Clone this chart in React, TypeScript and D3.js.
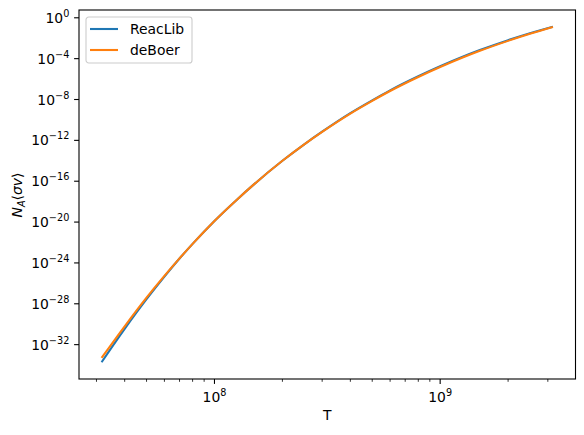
import React from 'react';
import * as d3 from 'd3';

// temperatures (K) and rates
const temps = [3.16e7, 4e7, 5e7, 6e7, 7e7, 8e7, 1e8, 1.25e8, 1.5e8, 2e8, 2.5e8, 3e8, 4e8, 5e8, 6e8, 8e8, 1e9, 1.25e9, 1.5e9, 2e9, 2.5e9, 3.16e9];
const reaclib = [1.9e-34, 3.5e-31, 2.8e-28, 4.6e-26, 2.7e-24, 7.4e-23, 1.3e-20, 1.4e-18, 5.2e-17, 1.0e-14, 4.1e-13, 7.0e-12, 4.6e-10, 8.3e-9, 7.9e-8, 1.9e-6, 1.8e-5, 1.45e-4, 6.9e-4, 6.5e-3, 3.1e-2, 1.32e-1];
const deboer = [5.0e-34, 6.3e-31, 4.0e-28, 5.4e-26, 2.8e-24, 7.4e-23, 1.3e-20, 1.4e-18, 5.2e-17, 1.0e-14, 4.1e-13, 6.8e-12, 4.2e-10, 7.4e-9, 6.8e-8, 1.6e-6, 1.5e-5, 1.2e-4, 5.8e-4, 5.5e-3, 2.7e-2, 1.26e-1];
const seriesNames = ['ReacLib', 'deBoer'];
const colors = ['#1f77b4', '#ff7f0e'];
const yTickExps = [0, -4, -8, -12, -16, -20, -24, -28, -32];
const xTickExps = [8, 9];

const W = 584;
const H = 435;
const margin = { left: 79, top: 10, right: 8.5, bottom: 56 };
const font = 'DejaVu Sans';
const fs = 13.9;

// matplotlib-style 5% padding in log space
function logPad(lo: number, hi: number): [number, number] {
  const a = Math.log10(lo);
  const b = Math.log10(hi);
  const p = (b - a) * 0.05;
  return [Math.pow(10, a - p), Math.pow(10, b + p)];
}

const App: React.FC = () => {
  const iw = W - margin.left - margin.right;
  const ih = H - margin.top - margin.bottom;
  const allY = reaclib.concat(deboer);

  const x = d3.scaleLog().domain(logPad(d3.min(temps)!, d3.max(temps)!)).range([0, iw]);
  const y = d3.scaleLog().domain(logPad(d3.min(allY)!, d3.max(allY)!)).range([ih, 0]);

  const line = d3.line<number>()
    .x((_, i) => x(temps[i]))
    .y(d => y(d))
    .curve(d3.curveMonotoneX);

  const [x0, x1] = x.domain();
  const minorX: number[] = [];
  for (let e = 7; e <= 9; e++) {
    for (let m = 2; m <= 9; m++) {
      const v = m * Math.pow(10, e);
      if (v > x0 && v < x1 * 0.99) minorX.push(v);
    }
  }

  const series = [reaclib, deboer];

  return (
    <svg width={W} height={H} style={{ position: 'absolute', left: 0, top: 0, background: '#fff' }} fontFamily={font}>
      <rect width={W} height={H} fill="#fff" />
      <g transform={`translate(${margin.left},${margin.top})`}>
        {series.map((s, i) => (
          <path key={i} d={line(s) || ''} fill="none" stroke={colors[i]} strokeWidth={2.1} />
        ))}
        <rect x={0} y={0} width={iw} height={ih} fill="none" stroke="#000" strokeWidth={1.1} />

        {/* y ticks */}
        {yTickExps.map(e => {
          const yy = y(Math.pow(10, e));
          return (
            <g key={e} transform={`translate(0,${yy})`}>
              <line x1={-4.9} x2={0} stroke="#000" strokeWidth={1.1} />
              <text x={-9.7} y={5} textAnchor="end" fontSize={fs} fill="#000">
                <tspan>10</tspan>
                <tspan dy={-6} fontSize={9.7}>{e === 0 ? '0' : '\u2212' + Math.abs(e)}</tspan>
              </text>
            </g>
          );
        })}

        {/* x ticks */}
        {xTickExps.map(e => {
          const xx = x(Math.pow(10, e));
          return (
            <g key={e} transform={`translate(${xx},${ih})`}>
              <line y1={0} y2={4.9} stroke="#000" strokeWidth={1.1} />
              <text x={0} y={22.5} textAnchor="middle" fontSize={fs} fill="#000">
                <tspan>10</tspan>
                <tspan dy={-6} fontSize={9.7}>{e}</tspan>
              </text>
            </g>
          );
        })}
        {minorX.map(v => (
          <line key={v} x1={x(v)} x2={x(v)} y1={ih} y2={ih + 2.8} stroke="#000" strokeWidth={0.8} />
        ))}

        {/* legend */}
        <g transform="translate(7,7)">
          <rect x={0} y={0} width={106} height={46} rx={2.8} fill="#fff" fillOpacity={0.8} stroke="#cccccc" strokeWidth={1.1} />
          {seriesNames.map((n, i) => (
            <g key={n} transform={`translate(0,${12 + i * 21})`}>
              <line x1={4} x2={32} stroke={colors[i]} strokeWidth={2.1} />
              <text x={44} y={5} fontSize={fs} fill="#000">{n}</text>
            </g>
          ))}
        </g>
      </g>

      {/* axis labels */}
      <text x={margin.left + iw / 2} y={420} textAnchor="middle" fontSize={fs} fill="#000">T</text>
      <text transform="translate(22,195) rotate(-90)" textAnchor="middle" fontSize={fs} fill="#000">
        <tspan fontStyle="italic">N</tspan>
        <tspan fontStyle="italic" fontSize={9.7} dy={3}>A</tspan>
        <tspan dy={-3}>{'\u27e8'}</tspan>
        <tspan fontStyle="italic">{'\u03c3v'}</tspan>
        <tspan>{'\u27e9'}</tspan>
      </text>
    </svg>
  );
};

export default App;
